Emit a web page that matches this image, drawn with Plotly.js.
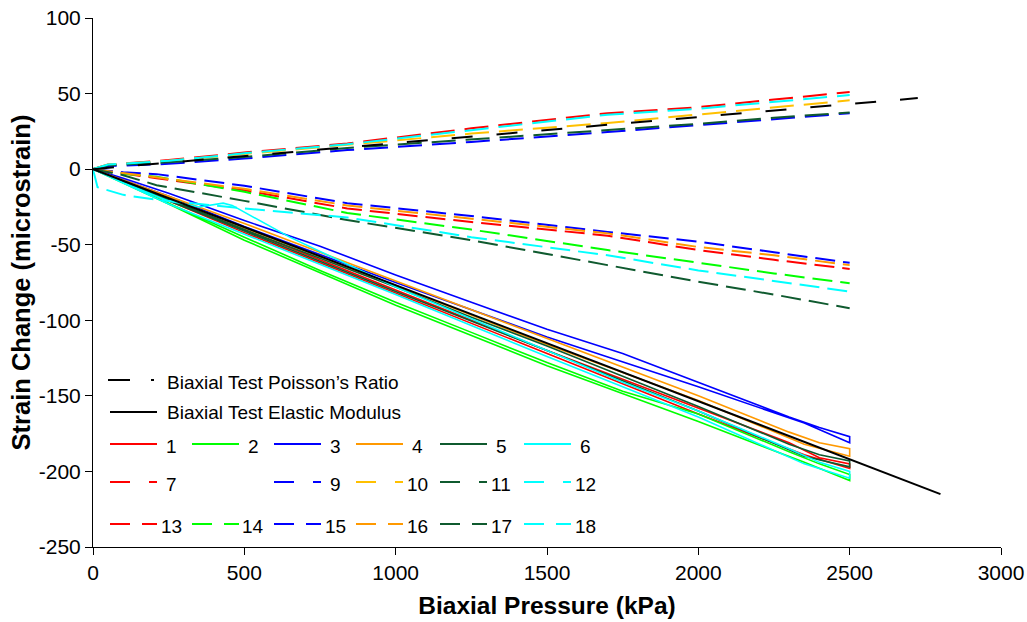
<!DOCTYPE html>
<html><head><meta charset="utf-8">
<script src="https://cdn.plot.ly/plotly-3.0.1.min.js"></script>
<style>html,body{margin:0;padding:0;background:#fff}#chart{width:1027px;height:622px}</style>
</head><body><div id="chart"></div>
<script>
// ---------- data (kPa -> microstrain) ----------
// reference lines
const pEM = [0, 2800];
const sEM = [0, -215];
const pPR = [0, 2725];
const sPR = [0, 47];

// solid series 1-6: loading then unloading
const pLoad   = [0, 100, 250, 500, 750, 1000, 1250, 1500, 1750, 2000, 2300, 2400, 2500];
const pUnload = [2500, 2350, 2000, 1500, 1000, 500, 250, 0];
const s1Load = [0, -8, -20, -40, -60, -80, -100, -120, -139, -158, -181, -191, -195];
const s1Unl  = [-198, -189, -162, -122, -82, -42, -21, 0];
const s2Load = [0, -9, -23, -45, -67, -88, -108, -128, -147, -162, -187, -195, -202];
const s2Unl  = [-206, -194, -167, -130, -90, -47, -23, 0];
const s3Load = [0, -6, -16, -34, -51, -70, -88, -106, -122, -141, -164, -171, -177];
const s3Unl  = [-181, -168, -144, -111, -75, -38, -18, 0];
const s4Load = [0, -7, -18, -36, -55, -74, -93, -112, -131, -150, -174, -181, -185];
const s4Unl  = [-190, -182, -153, -116, -77, -39, -19, 0];
const s5Load = [0, -8, -20, -40, -59, -78, -98, -117, -137, -157, -182, -189, -193];
const s5Unl  = [-197, -190, -160, -120, -81, -41, -21, 0];
const p6Load = [0, 100, 250, 350, 430, 460, 650, 1000, 1250, 1500, 1750, 2000, 2300, 2400, 2500];
const s6Load = [0, -9, -21, -25, -22.5, -24, -45, -78, -99, -120, -141, -160, -185, -194, -200];
const s6Unl  = [-204.5, -195, -164, -124, -83, -43, -23, 0];

// dashed series 7, 9-12 (positive strain)
const pUp = [0, 50, 250, 500, 840, 1250, 1700, 2000, 2250, 2500];
const s7  = [0, 3, 6, 11, 17, 27, 37, 41, 46, 51];
const s9  = [0, 2, 3.5, 7, 12.6, 18, 24.5, 29, 33, 37];
const s10 = [0, 3, 5.5, 10, 16, 23.5, 30.5, 36, 41, 45.5];
const s11 = [0, 2.5, 4.5, 8, 14, 19.5, 26, 30, 34, 37.5];
const s12 = [0, 3, 5.5, 10.5, 16.5, 26, 36, 40, 44.5, 49];

// dashed series 13-18
const pMid = [0, 100, 210, 500, 840, 1250, 1700, 2000, 2250, 2500];
const s13 = [0, -3, -6, -14, -26, -35, -44, -53.5, -60, -66];
const s14 = [0, -3, -5, -15, -29, -40, -53.5, -62, -69, -75.5];
const s15 = [0, -2, -3.3, -11, -22.5, -31, -41.5, -48, -55, -62];
const s16 = [0, -2.5, -5.3, -13, -24, -33, -42.5, -51.5, -57, -63.5];
const s17 = [0, -4, -10.6, -21, -33.7, -47, -63.5, -74.5, -83, -92];
const p18 = [0, 15, 100, 200, 500, 840, 1250, 1700, 2000, 2250, 2500];
const s18 = [0, -12, -17, -20, -26, -32, -45, -57, -67, -74, -81];

// axis ticks / labels
const xTicks = [0, 500, 1000, 1500, 2000, 2500, 3000];
const yTicks = [-250, -200, -150, -100, -50, 0, 50, 100];
const legendRef = ['Biaxial Test Poisson\u2019s Ratio', 'Biaxial Test Elastic Modulus'];
const legendRow1 = ['1', '2', '3', '4', '5', '6'];
const legendRow2 = ['7', '', '9', '10', '11', '12'];
const legendRow3 = ['13', '14', '15', '16', '17', '18'];

// ---------- styles ----------
const RED = '#ff0000', GRN = '#00ff00', BLU = '#0000ff', ORG = '#ff9900', GLD = '#ffc000', DKG = '#0f5a2f', CYN = '#00ffff';
const FONT = 'Arial, "Liberation Sans", sans-serif';
const DASH_UP = '24px,10px';
const DASH_MID = '20px,8px';
const DASH_PR = '21px,24px';

function tr(x, y, color, dash, width) {
  return {x: x, y: y, type: 'scatter', mode: 'lines', showlegend: false, hoverinfo: 'skip',
          line: {color: color, width: width || 1.6, dash: dash || 'solid'}};
}
const traces = [
  tr(pLoad.concat(pUnload), s1Load.concat(s1Unl), RED),
  tr(pLoad.concat(pUnload), s2Load.concat(s2Unl), GRN),
  tr(pLoad.concat(pUnload), s3Load.concat(s3Unl), BLU),
  tr(pLoad.concat(pUnload), s4Load.concat(s4Unl), ORG),
  tr(pLoad.concat(pUnload), s5Load.concat(s5Unl), DKG),
  tr(p6Load.concat(pUnload), s6Load.concat(s6Unl), CYN),
  tr(pMid, s13, RED, DASH_MID, 2),
  tr(pMid, s14, GRN, DASH_MID, 2),
  tr(pMid, s15, BLU, DASH_MID, 2),
  tr(pMid, s16, ORG, DASH_MID, 2),
  tr(pMid, s17, DKG, DASH_MID, 2),
  tr(p18, s18, CYN, DASH_MID, 2),
  tr(pUp, s7, RED, DASH_UP, 2),
  tr(pUp, s9, BLU, DASH_UP, 2),
  tr(pUp, s10, GLD, DASH_UP, 2),
  tr(pUp, s11, DKG, DASH_UP, 2),
  tr(pUp, s12, CYN, DASH_UP, 2),
  tr(pEM, sEM, '#000000', 'solid', 2),
  tr(pPR, sPR, '#000000', DASH_PR, 2)
];

// ---------- manual legend (paper coords from pixel positions) ----------
const W = 1027, H = 622, M = {l: 93, r: 26, t: 18, b: 75};
const PX = v => (v - M.l) / (W - M.l - M.r);
const PY = v => (H - M.b - v) / (H - M.t - M.b);
const shapes = [], annotations = [];
function sample(x0, len, y, color, dash) {
  shapes.push({type: 'line', xref: 'paper', yref: 'paper', x0: PX(x0), x1: PX(x0 + len), y0: PY(y), y1: PY(y),
               line: {color: color, width: 2, dash: dash}});
}
function label(text, x, y, anchor) {
  annotations.push({text: text, xref: 'paper', yref: 'paper', x: PX(x), y: PY(y), xanchor: anchor, yanchor: 'middle',
                    showarrow: false, font: {family: FONT, size: 19, color: '#000'}});
}
sample(108, 46, 380, '#000', '22px,21px');
label(legendRef[0], 165, 382, 'left');
sample(110, 47, 412, '#000', 'solid');
label(legendRef[1], 165, 412, 'left');
const colX = [110, 192, 274, 356, 440, 524];
const row1C = [RED, GRN, BLU, ORG, DKG, CYN];
const row2C = [RED, GRN, BLU, GLD, DKG, CYN];
const row3C = [RED, GRN, BLU, ORG, DKG, CYN];
for (let i = 0; i < 6; i++) {
  sample(colX[i], 47, 444, row1C[i], 'solid');
  label(legendRow1[i], colX[i] + 61, 446, 'center');
  if (legendRow2[i] !== '') {
    sample(colX[i], 47, 482, row2C[i], '20px,19px');
    label(legendRow2[i], colX[i] + 61, 484, 'center');
  }
  sample(colX[i], 47, 524, row3C[i], '20px,12px');
  label(legendRow3[i], colX[i] + 61, 526, 'center');
}

const axisCommon = {showline: true, linecolor: '#000', linewidth: 1, ticks: 'outside', ticklen: 7, tickwidth: 1,
                    tickcolor: '#000', showgrid: false, zeroline: false, tickfont: {family: FONT, size: 21, color: '#000'}};
const layout = {
  width: W, height: H, margin: M, paper_bgcolor: '#fff', plot_bgcolor: '#fff', showlegend: false,
  xaxis: Object.assign({}, axisCommon, {range: [0, 3000], tickvals: xTicks, ticktext: xTicks.map(String),
    title: {text: '<b>Biaxial Pressure (kPa)</b>', font: {family: FONT, size: 24.5, color: '#000'}, standoff: 13}}),
  yaxis: Object.assign({}, axisCommon, {range: [-250, 100], tickvals: yTicks, ticktext: yTicks.map(String),
    title: {text: '<b>Strain Change (microstrain)</b>', font: {family: FONT, size: 25.5, color: '#000'}, standoff: 0}}),
  shapes: shapes, annotations: annotations
};
Plotly.newPlot('chart', traces, layout, {staticPlot: true, displayModeBar: false});
</script></body></html>
